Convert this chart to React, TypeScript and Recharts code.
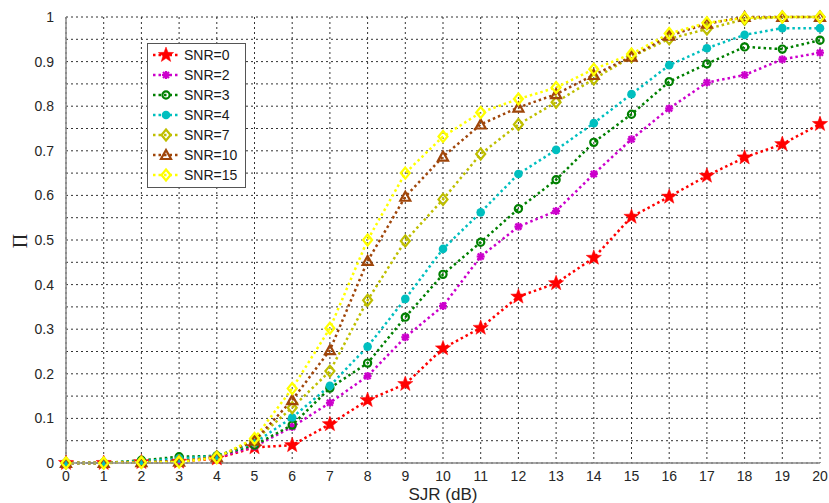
import React from "react";
import { LineChart, Line, XAxis, YAxis, CartesianGrid } from "recharts";

// SJR (dB) on the x axis
const sjr = [0, 1, 2, 3, 4, 5, 6, 7, 8, 9, 10, 11, 12, 13, 14, 15, 16, 17, 18, 19, 20];

// Pi for each SNR curve
const snr0 = [0, 0, 0.002, 0.003, 0.01, 0.035, 0.04, 0.087, 0.141, 0.177, 0.257, 0.303, 0.373, 0.403, 0.46, 0.552, 0.597, 0.644, 0.685, 0.715, 0.76];
const snr2 = [0, 0, 0.003, 0.005, 0.012, 0.037, 0.081, 0.135, 0.195, 0.282, 0.352, 0.463, 0.53, 0.565, 0.648, 0.726, 0.795, 0.853, 0.87, 0.905, 0.92];
const snr3 = [0, 0, 0.006, 0.014, 0.016, 0.04, 0.085, 0.168, 0.224, 0.327, 0.423, 0.495, 0.57, 0.635, 0.719, 0.782, 0.855, 0.895, 0.933, 0.928, 0.948];
const snr4 = [0, 0, 0.004, 0.01, 0.016, 0.045, 0.102, 0.173, 0.261, 0.368, 0.48, 0.562, 0.648, 0.702, 0.762, 0.827, 0.892, 0.93, 0.96, 0.975, 0.975];
const snr7 = [0, 0, 0.002, 0.004, 0.014, 0.05, 0.124, 0.206, 0.365, 0.498, 0.591, 0.693, 0.759, 0.809, 0.861, 0.911, 0.951, 0.973, 0.995, 1, 1];
const snr10 = [0, 0, 0.002, 0.003, 0.013, 0.05, 0.141, 0.253, 0.453, 0.597, 0.687, 0.759, 0.797, 0.827, 0.87, 0.911, 0.958, 0.985, 1, 1, 1];
const snr15 = [0, 0, 0.001, 0.002, 0.012, 0.055, 0.167, 0.302, 0.5, 0.65, 0.732, 0.786, 0.816, 0.842, 0.883, 0.917, 0.963, 0.987, 0.998, 1, 1];

const yTicks = [0, 0.05, 0.1, 0.15, 0.2, 0.25, 0.3, 0.35, 0.4, 0.45, 0.5, 0.55, 0.6, 0.65, 0.7, 0.75, 0.8, 0.85, 0.9, 0.95, 1];

type MarkerKind = "star" | "asterisk" | "circle" | "dot" | "diamond" | "triangle";

const series: { key: string; name: string; values: number[]; color: string; marker: MarkerKind }[] = [
  { key: "s0", name: "SNR=0", values: snr0, color: "#ff0000", marker: "star" },
  { key: "s2", name: "SNR=2", values: snr2, color: "#cc00cc", marker: "asterisk" },
  { key: "s3", name: "SNR=3", values: snr3, color: "#008000", marker: "circle" },
  { key: "s4", name: "SNR=4", values: snr4, color: "#00bfbf", marker: "dot" },
  { key: "s7", name: "SNR=7", values: snr7, color: "#bfbf00", marker: "diamond" },
  { key: "s10", name: "SNR=10", values: snr10, color: "#a0460a", marker: "triangle" },
  { key: "s15", name: "SNR=15", values: snr15, color: "#ffff00", marker: "diamond" },
];

const data = sjr.map((x, i) => {
  const row: Record<string, number> = { sjr: x };
  series.forEach((s) => (row[s.key] = s.values[i]));
  return row;
});

function starPath(cx: number, cy: number, R: number, r: number) {
  let d = "";
  for (let i = 0; i < 10; i++) {
    const a = -Math.PI / 2 + (i * Math.PI) / 5;
    const rad = i % 2 === 0 ? R : r;
    d += (i === 0 ? "M" : "L") + (cx + rad * Math.cos(a)).toFixed(2) + "," + (cy + rad * Math.sin(a)).toFixed(2);
  }
  return d + "Z";
}

function Marker({ kind, cx, cy, color }: { kind: MarkerKind; cx: number; cy: number; color: string }) {
  switch (kind) {
    case "star":
      return <path d={starPath(cx, cy, 8, 3.3)} fill={color} stroke={color} strokeWidth={0.5} />;
    case "asterisk":
      return (
        <g stroke={color} strokeWidth={2.2}>
          <line x1={cx - 4} y1={cy} x2={cx + 4} y2={cy} />
          <line x1={cx} y1={cy - 4} x2={cx} y2={cy + 4} />
          <line x1={cx - 3} y1={cy - 3} x2={cx + 3} y2={cy + 3} />
          <line x1={cx - 3} y1={cy + 3} x2={cx + 3} y2={cy - 3} />
        </g>
      );
    case "circle":
      return <circle cx={cx} cy={cy} r={3.6} fill="none" stroke={color} strokeWidth={2.2} />;
    case "dot":
      return <circle cx={cx} cy={cy} r={4.3} fill={color} />;
    case "diamond":
      return (
        <path
          d={`M${cx},${cy - 5.5}L${cx + 4.5},${cy}L${cx},${cy + 5.5}L${cx - 4.5},${cy}Z`}
          fill="none"
          stroke={color}
          strokeWidth={2.2}
        />
      );
    case "triangle":
      return (
        <path
          d={`M${cx},${cy - 5}L${cx + 5},${cy + 4}L${cx - 5},${cy + 4}Z`}
          fill="none"
          stroke={color}
          strokeWidth={2.2}
          strokeLinejoin="miter"
        />
      );
  }
}

const tickFont = { fill: "#262626", fontSize: 14, fontFamily: "Liberation Sans, Arial, sans-serif" };

function LegendBox() {
  return (
    <svg width={100} height={146} style={{ position: "absolute", left: 147, top: 43 }}>
      <rect x={0.5} y={0.5} width={98} height={144} fill="#fff" stroke="#555" strokeWidth={1} />
      {series.map((s, i) => {
        const y = 12 + i * 20;
        return (
          <g key={s.key}>
            <line x1={6} y1={y} x2={31} y2={y} stroke={s.color} strokeWidth={2.5} strokeDasharray="2.5 3" />
            <Marker kind={s.marker} cx={19} cy={y} color={s.color} />
            <text x={37} y={y + 5} fontSize={14} fill="#1a1a1a" fontFamily="Liberation Sans, Arial, sans-serif">
              {s.name}
            </text>
          </g>
        );
      })}
    </svg>
  );
}

// rotated Pi label, centred on the plot height
function PiLabel(props: any) {
  const vb = props.viewBox || { x: 0, y: 17, width: 66, height: 446 };
  const cx = 20;
  const cy = vb.y + vb.height / 2 + 1;
  return (
    <text
      x={cx}
      y={cy}
      transform={`rotate(-90 ${cx} ${cy})`}
      textAnchor="middle"
      dominantBaseline="central"
      fontSize={20}
      fill="#262626"
      fontFamily="Liberation Serif, serif"
    >
      Π
    </text>
  );
}

export default function App() {
  return (
    <div style={{ position: "absolute", left: 0, top: 0, width: 829, height: 503, background: "#fff" }}>
      <LineChart width={829} height={503} data={data} margin={{ top: 17, right: 9, bottom: 0, left: 0 }}>
        <CartesianGrid stroke="#333" strokeDasharray="2 3" strokeWidth={1} />
        <XAxis
          dataKey="sjr"
          type="number"
          domain={[0, 20]}
          ticks={sjr}
          interval={0}
          height={40}
          tickLine={false}
          tickMargin={2}
          axisLine={{ stroke: "#888", strokeWidth: 1.5 }}
          tick={tickFont}
          label={{ value: "SJR (dB)", position: "insideBottom", offset: 3, style: { ...tickFont, fontSize: 17 } }}
        />
        <XAxis xAxisId="top" orientation="top" dataKey="sjr" type="number" domain={[0, 20]} height={0} tick={false} tickLine={false} axisLine={{ stroke: "#888", strokeWidth: 1.5 }} />
        <YAxis
          type="number"
          domain={[0, 1]}
          ticks={yTicks}
          interval={0}
          width={66}
          tickLine={false}
          tickMargin={6}
          axisLine={{ stroke: "#888", strokeWidth: 1.5 }}
          tick={tickFont}
          tickFormatter={(v: number) => (Math.round(v * 100) % 10 === 0 ? String(Math.round(v * 10) / 10) : "")}
          label={(p: any) => <PiLabel {...p} />}
        />
        <YAxis yAxisId="right" orientation="right" type="number" domain={[0, 1]} width={0} tick={false} tickLine={false} axisLine={{ stroke: "#999", strokeWidth: 2 }} />
        {series.map((s) => (
          <Line
            key={s.key}
            dataKey={s.key}
            name={s.name}
            type="linear"
            stroke={s.color}
            strokeWidth={2.5}
            strokeDasharray="2.5 3"
            isAnimationActive={false}
            activeDot={false}
            dot={(p: any) => <Marker key={`${s.key}-${p.index}`} kind={s.marker} cx={p.cx} cy={p.cy} color={s.color} />}
          />
        ))}
      </LineChart>
      <LegendBox />
    </div>
  );
}
